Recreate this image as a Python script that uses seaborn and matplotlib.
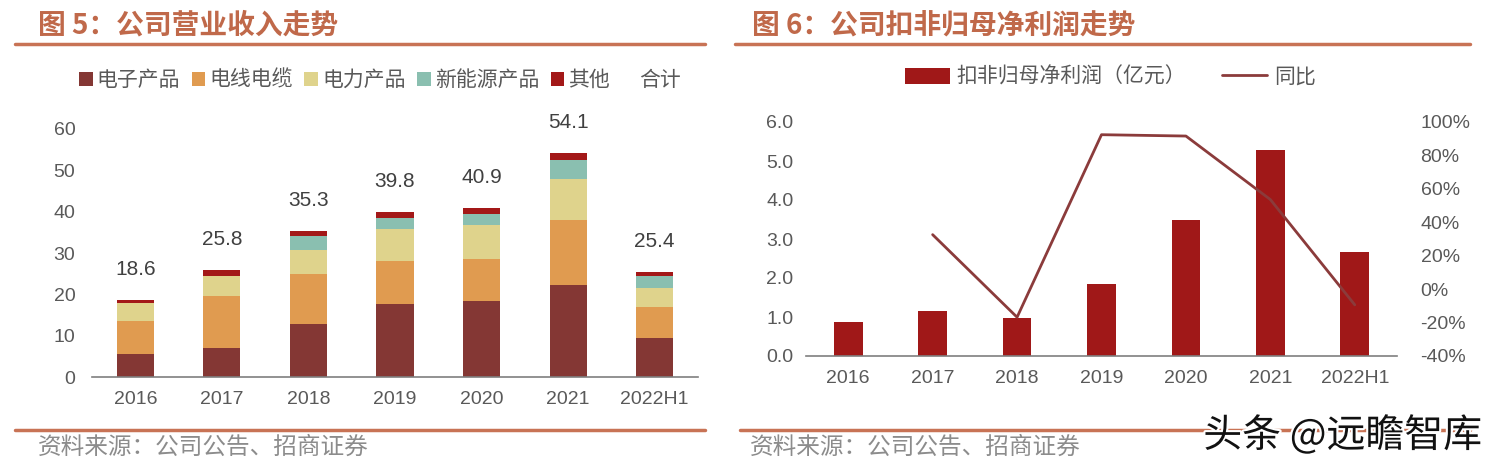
import matplotlib
matplotlib.use('Agg')
import matplotlib.pyplot as plt
import seaborn as sns
import numpy as np
import pandas as pd
from matplotlib.patches import Patch
from matplotlib.lines import Line2D
import matplotlib.patheffects as pe

sns.set_theme(style='white')
plt.rcParams['font.family'] = ['Noto Sans CJK SC', 'DejaVu Sans']

# ---------------- data ----------------
years = ['2016', '2017', '2018', '2019', '2020', '2021', '2022H1']
electronic = [5.6, 7.0, 12.9, 17.6, 18.5, 22.2, 9.5]
cable = [8.0, 12.7, 12.1, 10.5, 10.1, 15.7, 7.4]
power = [4.3, 4.8, 5.8, 7.7, 8.1, 9.9, 4.6]
new_energy = [0.0, 0.0, 3.4, 2.7, 2.7, 4.6, 2.9]
other = [0.7, 1.3, 1.1, 1.3, 1.5, 1.7, 1.0]
total = [18.6, 25.8, 35.3, 39.8, 40.9, 54.1, 25.4]
seg_names = ['电子产品', '电线电缆', '电力产品', '新能源产品', '其他']

profit = [0.87, 1.15, 0.97, 1.85, 3.50, 5.29, 2.67]
yoy = [np.nan, 32.6, -16.8, 92.4, 91.6, 53.6, -9.4]

left_ticks = [0, 10, 20, 30, 40, 50, 60]
profit_ticks = [0.0, 1.0, 2.0, 3.0, 4.0, 5.0, 6.0]
yoy_ticks = [-40, -20, 0, 20, 40, 60, 80, 100]

# ---------------- style ----------------
seg_colors = ['#843734', '#E09B50', '#DFD38C', '#8ABFB0', '#A31818']
bar_red = '#A01818'
line_col = '#8B3B3B'
title_col = '#C0694A'
rule_col = '#C87355'
txt_col = '#595959'
num_font = ['Liberation Sans', 'DejaVu Sans']

W, H = 1491, 471
fig = plt.figure(figsize=(W / 100, H / 100), dpi=100)

def fx(px):
    return px / W

def fy(py):
    return 1 - py / H

# ---------------- left chart ----------------
ax1 = fig.add_axes([fx(92), fy(377), fx(698) - fx(92), fy(129) - fy(377)])
df = pd.DataFrame({'year': years, '电子产品': electronic, '电线电缆': cable,
                   '电力产品': power, '新能源产品': new_energy, '其他': other})
cum = df[seg_names].cumsum(axis=1)
for name, col in reversed(list(zip(seg_names, seg_colors))):
    sns.barplot(x=df['year'], y=cum[name], color=col, saturation=1, width=0.43,
                errorbar=None, ax=ax1, linewidth=0)
for i, t in enumerate(total):
    ax1.annotate(f'{t:.1f}', xy=(i, t), xytext=(0, 22), textcoords='offset points',
                 ha='center', va='center', fontsize=15, color='#404040',
                 family=num_font, annotation_clip=False)
ax1.set_ylim(0, 60)
ax1.set_xlim(-0.5, 6.5)
ax1.set_yticks(left_ticks)
ax1.set_xlabel('')
ax1.set_ylabel('')

# ---------------- right chart ----------------
ax2 = fig.add_axes([fx(806), fy(356), fx(1397) - fx(806), fy(122) - fy(356)])
sns.barplot(x=years, y=profit, color=bar_red, saturation=1, width=0.34,
            errorbar=None, ax=ax2, linewidth=0)
ax2.set_ylim(0, 6)
ax2.set_xlim(-0.5, 6.5)
ax2.set_yticks(profit_ticks)
ax2.set_yticklabels([f'{v:.1f}' for v in profit_ticks])
ax3 = ax2.twinx()
ldf = pd.DataFrame({'pos': np.arange(len(years)), 'yoy': yoy}).dropna()
sns.lineplot(data=ldf, x='pos', y='yoy', color=line_col, linewidth=2, ax=ax3)
ax3.set_ylim(-40, 100)
ax3.set_yticks(yoy_ticks)
ax3.set_yticklabels([f'{v}%' for v in yoy_ticks])
ax3.set_xlim(-0.5, 6.5)
ax3.set_xlabel('')
ax3.set_ylabel('')

for ax in (ax1, ax2, ax3):
    for s in ('top', 'left', 'right'):
        ax.spines[s].set_visible(False)
    ax.spines['bottom'].set_color('#7f7f7f')
    ax.spines['bottom'].set_linewidth(1.2)
    ax.grid(False)
    ax.set_facecolor('none')
for ax in (ax1, ax2):
    ax.set_xticks(np.arange(-0.5, 7, 1), minor=True)
    ax.tick_params(axis='x', which='minor', length=6, width=1, color='#7f7f7f', direction='out')
    ax.tick_params(axis='x', which='major', length=0, pad=10, labelsize=14, labelcolor=txt_col)
    ax.tick_params(axis='y', length=0, labelsize=14, labelcolor=txt_col)
    for lab in ax.get_xticklabels() + ax.get_yticklabels():
        lab.set_family(num_font)
ax1.tick_params(axis='y', pad=12)
ax2.tick_params(axis='y', pad=9)
ax3.tick_params(axis='y', length=0, labelsize=14, labelcolor=txt_col, pad=17)
for lab in ax3.get_yticklabels():
    lab.set_family(num_font)
ax3.spines['bottom'].set_visible(False)
ax2.set_ylabel('')

# ---------------- legends ----------------
h1 = [Patch(facecolor=c, edgecolor='none') for c in seg_colors] + \
     [Patch(facecolor='none', edgecolor='none')]
fig.legend(h1, seg_names + ['合计'], loc='center', bbox_to_anchor=(fx(380), fy(80)),
           ncol=6, frameon=False, fontsize=15, handlelength=0.65, handleheight=0.65,
           handletextpad=0.2, columnspacing=0.55, labelcolor=txt_col)
h2 = [Patch(facecolor=bar_red, edgecolor='none'), Line2D([], [], color=line_col, lw=2)]
fig.legend(h2, ['扣非归母净利润（亿元）', '同比'], loc='center',
           bbox_to_anchor=(fx(1110), fy(77)), ncol=2, frameon=False, fontsize=15,
           handlelength=2.2, handleheight=0.8, handletextpad=0.3, columnspacing=1.7,
           labelcolor=txt_col)

# ---------------- titles, rules, sources ----------------
fig.text(fx(38), fy(25), '图 5：公司营业收入走势', fontsize=20, weight='bold',
         color=title_col, va='center', ha='left')
fig.text(fx(752), fy(25), '图 6：公司扣非归母净利润走势', fontsize=20, weight='bold',
         color=title_col, va='center', ha='left')
for (x0, x1) in [(15, 705), (735, 1470)]:
    fig.add_artist(Line2D([fx(x0), fx(x1)], [fy(44), fy(44)], color=rule_col, lw=2.5))
for (x0, x1) in [(15, 705), (740, 1470)]:
    fig.add_artist(Line2D([fx(x0), fx(x1)], [fy(430), fy(430)], color=rule_col, lw=2.5))
fig.text(fx(38), fy(447), '资料来源：公司公告、招商证券', fontsize=17, color='#8c8c8c',
         va='center', ha='left')
fig.text(fx(750), fy(447), '资料来源：公司公告、招商证券', fontsize=17, color='#8c8c8c',
         va='center', ha='left')
fig.text(fx(1482), fy(436), '头条 @远瞻智库', fontsize=28, color='#111111',
         va='center', ha='right',
         path_effects=[pe.withStroke(linewidth=3, foreground='white')])

fig.savefig('out.png', dpi=100)
